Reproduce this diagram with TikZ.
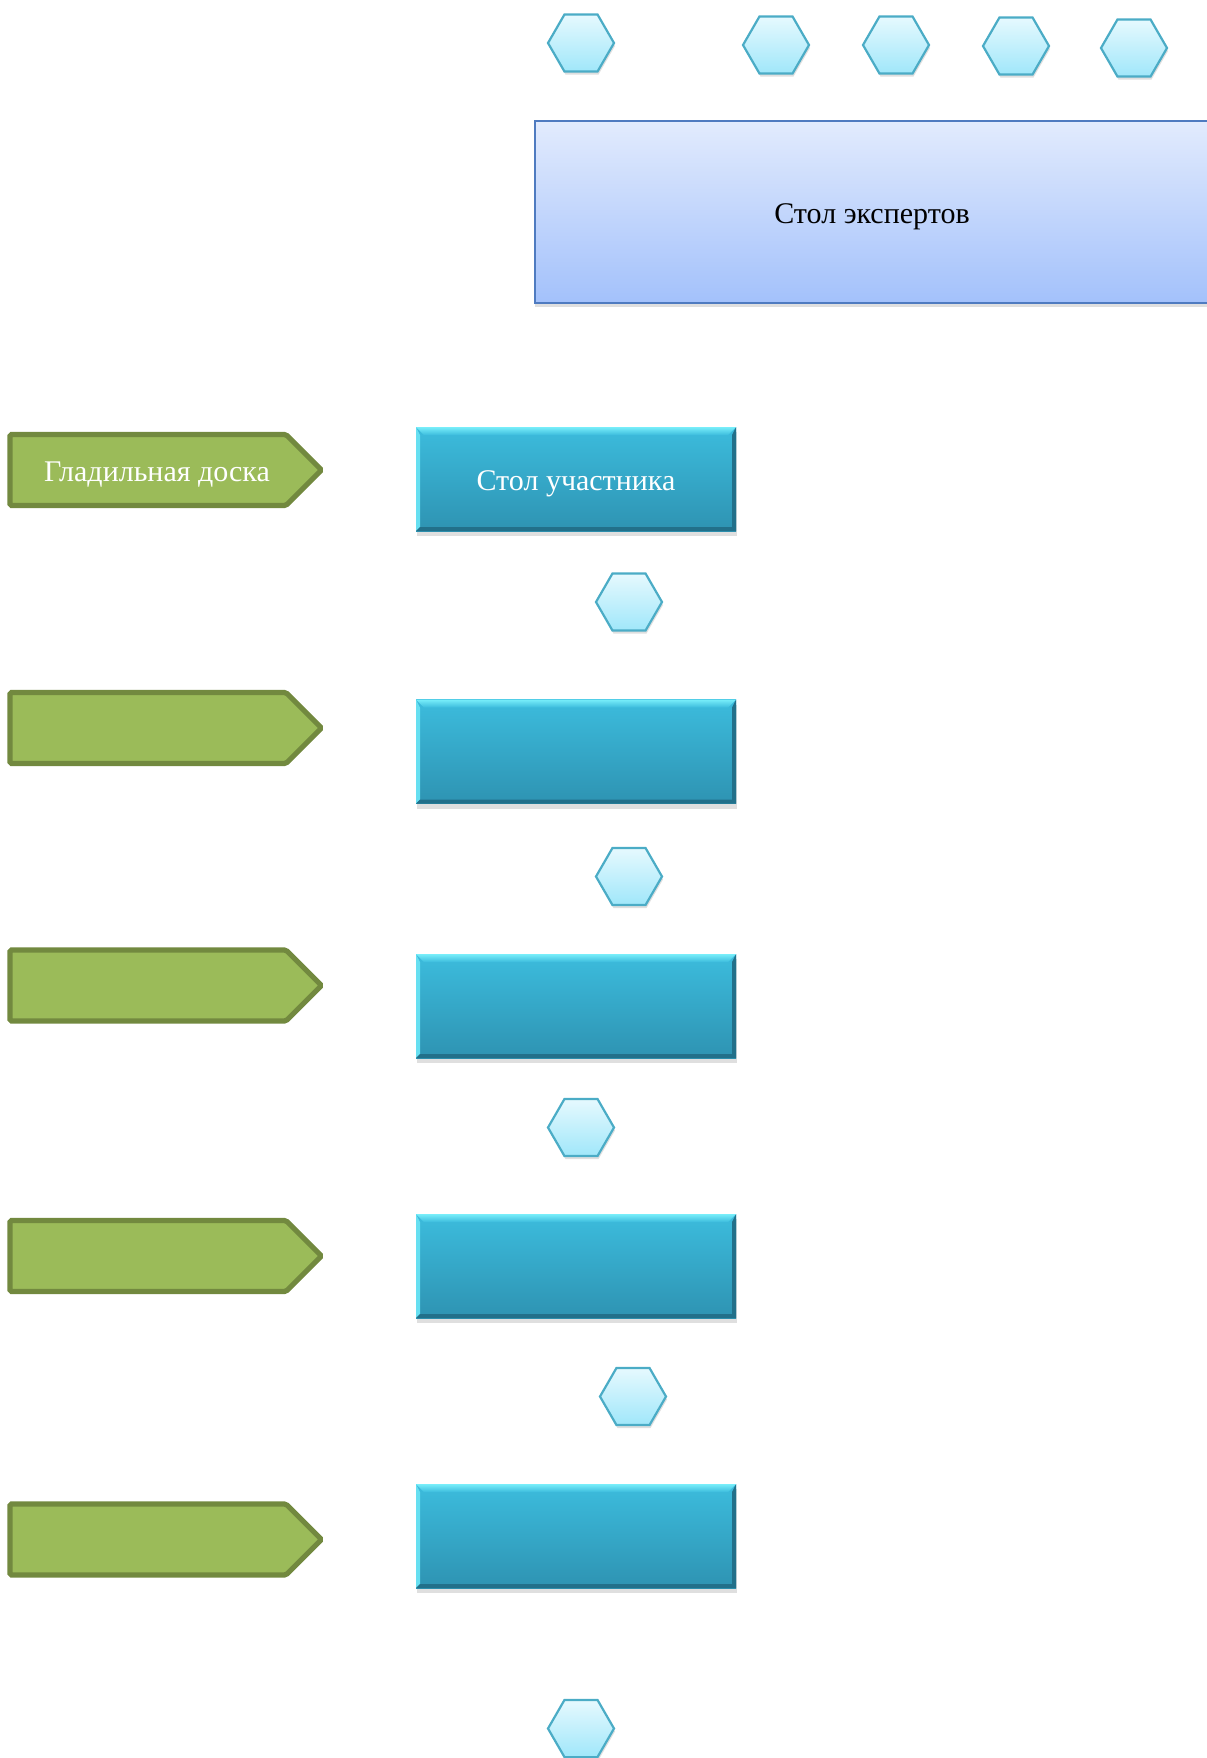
\documentclass[tikz,border=0pt]{standalone}
\usepackage{fontspec}
\setmainfont{Liberation Serif}
\usetikzlibrary{positioning,shapes.geometric,shapes.symbols,shadows}

\definecolor{hexline}{HTML}{4BACC6}
\definecolor{hextop}{HTML}{E6F9FE}
\definecolor{hexbot}{HTML}{A0E7FA}
\definecolor{exptop}{HTML}{E2EBFD}
\definecolor{expbot}{HTML}{A3C1FB}
\definecolor{expline}{HTML}{4F7BC0}
\definecolor{boardfill}{HTML}{9BBB59}
\definecolor{boardline}{HTML}{72893F}
\definecolor{desktop}{HTML}{3CBCDD}
\definecolor{deskbot}{HTML}{2E93B2}
\definecolor{deskhi}{HTML}{78EEFA}
\definecolor{desklo}{HTML}{22708A}

\begin{document}
\begin{tikzpicture}[x=0.5pt,y=-0.5pt,on grid,
    label font/.style={font=\fontsize{15}{18}\selectfont,text height=14.5pt},
    hex/.style={regular polygon,regular polygon sides=6,minimum size=33pt,
      inner sep=0pt,draw=hexline,line width=1.1pt,top color=hextop,bottom color=hexbot,
      drop shadow={opacity=0.25,shadow xshift=0.5pt,shadow yshift=-1.5pt}},
    experts/.style={rectangle,minimum width=337pt,minimum height=91pt,draw=expline,
      line width=0.8pt,top color=exptop,bottom color=expbot,
      drop shadow={opacity=0.25,shadow xshift=0pt,shadow yshift=-2pt},label font},
    board/.style={signal,signal to=east,signal pointer angle=90,minimum width=155.7pt,
      minimum height=35.5pt,inner sep=0pt,fill=boardfill,draw=boardline,line width=2.6pt,
      rounded corners=0.8pt,text=white,label font},
    desk/.style={rectangle,minimum width=160pt,minimum height=52pt,
      top color=desktop,bottom color=deskbot,text=white,label font,
      drop shadow={opacity=0.25,shadow xshift=0.5pt,shadow yshift=-2.5pt},
      path picture={
        \fill[deskhi!70!desktop] (path picture bounding box.north west)
          -- (path picture bounding box.south west)
          -- ([xshift=2pt,yshift=2pt]path picture bounding box.south west)
          -- ([xshift=2pt,yshift=-4pt]path picture bounding box.north west) -- cycle;
        \fill[desklo] (path picture bounding box.south west)
          -- (path picture bounding box.south east)
          -- (path picture bounding box.north east)
          -- ([xshift=-2pt,yshift=-4pt]path picture bounding box.north east)
          -- ([xshift=-2pt,yshift=2pt]path picture bounding box.south east)
          -- ([xshift=2pt,yshift=2pt]path picture bounding box.south west) -- cycle;
        \shade[top color=deskhi,bottom color=desktop] (path picture bounding box.north west)
          -- (path picture bounding box.north east)
          -- ([xshift=-4pt,yshift=-4pt]path picture bounding box.north east)
          -- ([xshift=4pt,yshift=-4pt]path picture bounding box.north west) -- cycle;
      }}]
  \useasboundingbox (0,0) rectangle (1206,1758);

  % experts' table and the chairs behind it
  \node[experts] (exp) at (872,212) {Стол экспертов};
  \node[hex] (e1) at (581,43) {};
  \node[hex] (e2) at (776,45) {};
  \node[hex] (e3) [right=60pt of e2] {};
  \node[hex] (e4) at (1016,46) {};
  \node[hex] (e5) at (1134,48) {};

  % ironing boards
  \node[board] (b1) at (148,470) {\hspace*{9pt}Гладильная доска};
  \node[board] (b2) at (148,728) {};
  \node[board] (b3) at (148,985.5) {};
  \node[board] (b4) at (148,1256) {};
  \node[board] (b5) at (148,1539.5) {};

  % participants' tables
  \node[desk] (d1) at (576,479) {Стол участника};
  \node[desk] (d2) at (576,751.5) {};
  \node[desk] (d3) at (576,1006) {};
  \node[desk] (d4) at (576,1266) {};
  \node[desk] (d5) at (576,1536) {};

  % participants' chairs
  \node[hex] (p1) at (629,602) {};
  \node[hex] (p2) at (629,876.5) {};
  \node[hex] (p3) at (581,1127.5) {};
  \node[hex] (p4) at (633,1396.5) {};
  \node[hex] (p5) at (581,1728.5) {};
\end{tikzpicture}
\end{document}
